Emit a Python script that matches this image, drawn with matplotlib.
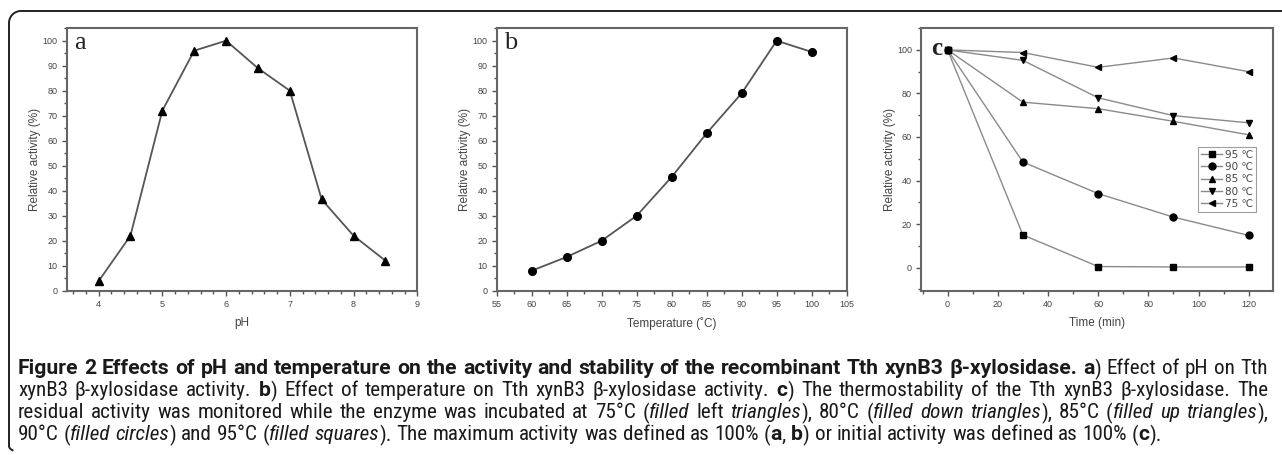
import numpy as np
import matplotlib
matplotlib.use("Agg")
import matplotlib.pyplot as plt
from matplotlib import font_manager
from matplotlib.ticker import MultipleLocator
from matplotlib.lines import Line2D

# panel a: pH profile
ph = [4, 4.5, 5, 5.5, 6, 6.5, 7, 7.5, 8, 8.5]
act_ph = [3.8, 22, 72, 96, 100, 89, 80, 36.5, 22, 12]

# panel b: temperature profile
temp = [60, 65, 70, 75, 80, 85, 90, 95, 100]
act_temp = [8, 13.5, 20, 30, 45.5, 63, 79, 100, 95.5]

# panel c: thermostability
time_min = [0, 30, 60, 90, 120]
stab_95 = [100, 15, 0.5, 0.3, 0.3]
stab_90 = [100, 48.5, 34, 23.2, 14.8]
stab_85 = [100, 76, 73, 67.2, 61]
stab_80 = [100, 95.2, 78, 69.8, 66.5]
stab_75 = [100, 98.8, 92, 96.3, 90]
stab_labels = ["95 \u2103", "90 \u2103", "85 \u2103", "80 \u2103", "75 \u2103"]
stab_markers = ["s", "o", "^", "v", "<"]

W, H = 1282, 455
fig = plt.figure(figsize=(W / 100, H / 100), dpi=100)

def px_axes(left, top, right, bottom):
    return fig.add_axes([left / W, 1 - bottom / H, (right - left) / W, (bottom - top) / H])

def style_axes(ax):
    for s in ax.spines.values():
        s.set_color("#666666")
        s.set_linewidth(1.5)
    ax.tick_params(which="both", direction="out", colors="#555555", labelcolor="#444444",
                   labelsize=6.5, width=1.0)
    ax.tick_params(which="major", length=3.5, pad=3)
    ax.tick_params(which="minor", length=2)
    for lab in ax.get_xticklabels() + ax.get_yticklabels():
        lab.set_family("Liberation Sans")
    ax.set_ylabel("Relative activity (%)", fontsize=8.5, color="#444444", family="Liberation Sans",
                  labelpad=1)

# --- a ---
ax1 = px_axes(66.7, 27.7, 417.3, 290.7)
ax1.plot(ph, act_ph, color="#555555", lw=1.3, marker="^", ms=5.5, mfc="black", mec="black")
ax1.set_xlim(3.5, 9)
ax1.set_ylim(0, 105.2)
ax1.xaxis.set_major_locator(MultipleLocator(1))
ax1.xaxis.set_minor_locator(MultipleLocator(0.2))
ax1.yaxis.set_major_locator(MultipleLocator(10))
ax1.yaxis.set_minor_locator(MultipleLocator(5))
ax1.set_xlabel("pH", fontsize=8.5, color="#444444", family="Liberation Sans", labelpad=6)
style_axes(ax1)
ax1.text(0.022, 0.985, "a", transform=ax1.transAxes, fontsize=19, family="Liberation Serif",
         va="top", ha="left", color="#222222")

# --- b ---
ax2 = px_axes(496.7, 27.7, 846.7, 290.7)
ax2.plot(temp, act_temp, color="#555555", lw=1.3, marker="o", ms=5.5, mfc="black", mec="black")
ax2.set_xlim(55, 105)
ax2.set_ylim(0, 105.2)
ax2.xaxis.set_major_locator(MultipleLocator(5))
ax2.xaxis.set_minor_locator(MultipleLocator(2.5))
ax2.yaxis.set_major_locator(MultipleLocator(10))
ax2.yaxis.set_minor_locator(MultipleLocator(5))
ax2.set_xlabel("Temperature (\u02daC)", fontsize=8.5, color="#444444", family="Liberation Sans",
               labelpad=6)
style_axes(ax2)
ax2.text(0.022, 0.985, "b", transform=ax2.transAxes, fontsize=19, family="Liberation Serif",
         va="top", ha="left", color="#222222")

# --- c ---
ax3 = px_axes(921, 27.7, 1273.3, 290.7)
series = [stab_95, stab_90, stab_85, stab_80, stab_75]
for vals, lab, mk in zip(series, stab_labels, stab_markers):
    ax3.plot(time_min, vals, color="#8a8a8a", lw=1.0, marker=mk, ms=5, mfc="black",
             mec="black", label=lab)
ax3.set_xlim(-10.6, 129.8)
ax3.set_ylim(-10.6, 110.2)
ax3.xaxis.set_major_locator(MultipleLocator(20))
ax3.xaxis.set_minor_locator(MultipleLocator(10))
ax3.yaxis.set_major_locator(MultipleLocator(20))
ax3.yaxis.set_minor_locator(MultipleLocator(10))
ax3.set_xlabel("Time (min)", fontsize=8.5, color="#444444", family="Liberation Sans", labelpad=6)
style_axes(ax3)
ax3.text(0.03, 0.965, "c", transform=ax3.transAxes, fontsize=18, family="Liberation Serif",
         fontweight="bold", va="top", ha="left", color="#222222")
leg = ax3.legend(loc="upper right", bbox_to_anchor=(0.952, 0.548),
                 prop={"family": ["DejaVu Sans", "Noto Sans CJK SC"], "size": 7.5},
                 frameon=True, fancybox=False, edgecolor="#888888", borderpad=0.3,
                 labelspacing=0.22, handlelength=2.0, handletextpad=0.3, borderaxespad=0)
leg.get_frame().set_linewidth(0.8)
for t in leg.get_texts():
    t.set_color("#444444")

# --- rounded border (open on right and bottom) ---
r = 12
xs, ys = [W], [11]
ang = np.linspace(np.pi / 2, np.pi, 20)
xs += list(9 + r + r * np.cos(ang))
ys += list(11 + r - r * np.sin(ang))
ang2 = np.linspace(np.pi, np.pi * 1.25, 8)
xs += list(9 + r + r * np.cos(ang2))
ys += list(452 - r * 0.5 - r * np.sin(ang2) * 0.5)
fig.add_artist(Line2D(np.array(xs) / W, 1 - np.array(ys) / H, transform=fig.transFigure,
                      color="#222222", lw=1.4))

# --- caption (justified, last line ragged) ---
cap_lines = [
    [("Figure 2 Effects of pH and temperature on the activity and stability of the recombinant Tth xynB3 \u03b2-xylosidase. a", "b"),
     (") Effect of pH on Tth", "n")],
    [("xynB3 \u03b2-xylosidase activity. ", "n"), ("b", "b"),
     (") Effect of temperature on Tth xynB3 \u03b2-xylosidase activity. ", "n"), ("c", "b"),
     (") The thermostability of the Tth xynB3 \u03b2-xylosidase. The", "n")],
    [("residual activity was monitored while the enzyme was incubated at 75\u00b0C (", "n"), ("filled", "i"),
     (" left ", "n"), ("triangles", "i"), ("), 80\u00b0C (", "n"), ("filled down triangles", "i"),
     ("), 85\u00b0C (", "n"), ("filled up triangles", "i"), ("),", "n")],
    [("90\u00b0C (", "n"), ("filled circles", "i"), (") and 95\u00b0C (", "n"), ("filled squares", "i"),
     ("). The maximum activity was defined as 100% (", "n"), ("a", "b"), (", ", "n"), ("b", "b"),
     (") or initial activity was defined as 100% (", "n"), ("c", "b"), (").", "n")],
]
cap_y = [367, 389, 411, 433]
cap_x0, cap_x1 = 18, 1268

def first_font(cands):
    for cand in cands:
        try:
            font_manager.findfont(font_manager.FontProperties(family=cand), fallback_to_default=False)
            return cand
        except Exception:
            pass
    return "DejaVu Sans"

reg_family = first_font(["Liberation Sans Narrow", "Roboto Condensed", "Open Sans"])
bold_family = first_font(["Roboto", "Open Sans"])
renderer = fig.canvas.get_renderer()

def text_kw(style, size):
    fam = bold_family if style == "b" else reg_family
    return dict(fontsize=size, family=[fam, "DejaVu Sans"], color="#1a1a1a",
                fontweight="bold" if style == "b" else "normal",
                fontstyle="italic" if style == "i" else "normal")

def seg_width(txt, style, size):
    t1 = fig.text(0, 0, "|" + txt + "|", **text_kw(style, size))
    t2 = fig.text(0, 0, "||", **text_kw(style, size))
    w = t1.get_window_extent(renderer).width - t2.get_window_extent(renderer).width
    t1.remove()
    t2.remove()
    return w

def split_words(segs):
    # list of words, each word a list of (text, style) runs; spaces separate words
    words, cur, spaces = [], [], []
    for txt, style in segs:
        parts = txt.split(" ")
        for k, p in enumerate(parts):
            if k > 0:
                words.append(cur)
                spaces.append(style)
                cur = []
            if p:
                cur.append((p, style))
    words.append(cur)
    return words, spaces

def natural_width(segs, size):
    return sum(seg_width(t, s, size) for t, s in segs)

base = 12.0
widest = max(natural_width(cap_lines[i], base) for i in range(3))
size = base * (cap_x1 - cap_x0) / widest * 0.99

for i, (segs, y) in enumerate(zip(cap_lines, cap_y)):
    words, spaces = split_words(segs)
    word_w = [sum(seg_width(t, s, size) for t, s in w) for w in words]
    space_w = [seg_width(" ", s, size) for s in spaces]
    if i < 3 and spaces:
        gap = (cap_x1 - cap_x0 - sum(word_w)) / len(spaces)
        space_w = [gap] * len(spaces)
    x = cap_x0
    for j, w in enumerate(words):
        for t, s in w:
            fig.text(x / W, 1 - y / H, t, va="center_baseline", ha="left", **text_kw(s, size))
            x += seg_width(t, s, size)
        if j < len(spaces):
            x += space_w[j]

fig.savefig("out.png", dpi=100)
